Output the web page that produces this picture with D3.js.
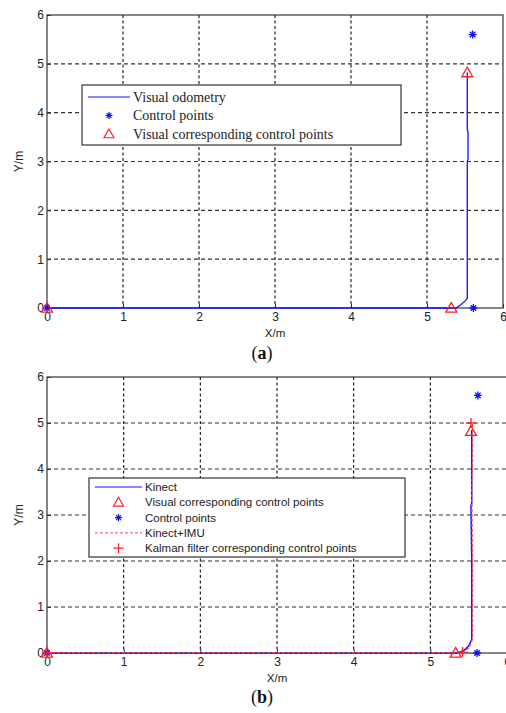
<!DOCTYPE html>
<html>
<head>
<meta charset="utf-8">
<script src="https://cdn.jsdelivr.net/npm/d3@7"></script>
<style>
  body { margin: 0; background: #fff; }
  svg { display: block; }
  .tick text { font-family: Arial, "Liberation Sans", sans-serif; font-size: 12px; fill: #222; }
</style>
</head>
<body>
<script>
// axis ticks
const xTicks = [0, 1, 2, 3, 4, 5, 6];
const yTicks = [0, 1, 2, 3, 4, 5, 6];

// (a) visual odometry track
const odoX = [0, 1, 2, 3, 4, 5, 5.38, 5.44, 5.5, 5.53, 5.53, 5.53, 5.54, 5.54, 5.53, 5.53];
const odoY = [0, 0, 0, 0, 0, 0, 0, 0.06, 0.14, 0.2, 1.5, 3.0, 3.05, 3.6, 3.65, 4.82];
const ctrlAX = [0, 5.61, 5.6];
const ctrlAY = [0, 0, 5.6];
const visAX = [0, 5.32, 5.53];
const visAY = [0, 0, 4.82];

// (b) Kinect and Kinect+IMU tracks
const kinX = [0, 1, 2, 3, 4, 5, 5.36, 5.44, 5.5, 5.54, 5.54, 5.53, 5.54, 5.54];
const kinY = [0, 0, 0, 0, 0, 0, 0, 0.06, 0.15, 0.3, 2.0, 3.2, 3.25, 4.85];
const imuX = [0, 1, 2, 3, 4, 5, 5.4, 5.5, 5.55, 5.55, 5.54, 5.55, 5.55];
const imuY = [0.01, 0.01, 0.01, 0.01, 0.01, 0.01, 0.01, 0.1, 0.3, 2.0, 3.5, 4.2, 5.0];
const ctrlBX = [0, 5.61, 5.62];
const ctrlBY = [0, 0, 5.6];
const visBX = [0, 5.33, 5.53];
const visBY = [0, 0, 4.82];
const kalBX = [0, 5.42, 5.53];
const kalBY = [0, 0.02, 5.0];

const svg = d3.select("body").append("svg").attr("width", 506).attr("height", 713);

function starPath(size) {
  let s = size, d = s * 0.7;
  return `M${-s},0L${s},0M0,${-s}L0,${s}M${-d},${-d}L${d},${d}M${-d},${d}L${d},${-d}`;
}
function plusPath(size) {
  return `M${-size},0L${size},0M0,${-size}L0,${size}`;
}
function triPath(size) {
  return `M0,${-size}L${size},${size * 0.75}L${-size},${size * 0.75}Z`;
}

function panel(box) {
  const g = svg.append("g");
  const x = d3.scaleLinear().domain([0, 6]).range([box.left, box.right]);
  const y = d3.scaleLinear().domain([0, 6]).range([box.bottom, box.top]);

  // grid
  g.append("g").selectAll("line").data(xTicks.slice(1, -1)).enter().append("line")
    .attr("x1", d => x(d)).attr("x2", d => x(d)).attr("y1", box.top).attr("y2", box.bottom)
    .attr("stroke", "#111").attr("stroke-width", 1.1).attr("stroke-dasharray", "3,2.5");
  g.append("g").selectAll("line").data(yTicks.slice(1, -1)).enter().append("line")
    .attr("y1", d => y(d)).attr("y2", d => y(d)).attr("x1", box.left).attr("x2", box.right)
    .attr("stroke", "#333").attr("stroke-width", 1.1).attr("stroke-dasharray", "4,3");

  // frame
  g.append("rect").attr("x", box.left).attr("y", box.top)
    .attr("width", box.right - box.left).attr("height", box.bottom - box.top)
    .attr("fill", "none").attr("stroke", "#444").attr("stroke-width", 1.3);

  const xAxis = d3.axisBottom(x).tickValues(xTicks).tickSize(-4).tickPadding(4).tickFormat(d3.format("d"));
  const yAxis = d3.axisLeft(y).tickValues(yTicks).tickSize(-4).tickPadding(3).tickFormat(d3.format("d"));
  const ax = g.append("g").attr("transform", `translate(0,${box.bottom})`).call(xAxis);
  const ay = g.append("g").attr("transform", `translate(${box.left},0)`).call(yAxis);
  [ax, ay].forEach(a => {
    a.select(".domain").remove();
    a.selectAll(".tick line").attr("stroke", "#333");
  });

  g.append("text").attr("x", x(3)).attr("y", box.bottom + 28.5)
    .attr("text-anchor", "middle").attr("font-family", "Arial, sans-serif").attr("font-size", 11.5)
    .attr("fill", "#222").text("X/m");
  g.append("text").attr("transform", `translate(23,${y(3)}) rotate(-90)`)
    .attr("text-anchor", "middle").attr("font-family", "Arial, sans-serif").attr("font-size", 12)
    .attr("fill", "#222").text("Y/m");
  return { g, x, y };
}

function track(p, xs, ys, color, width, dash) {
  const line = d3.line().x(d => p.x(d[0])).y(d => p.y(d[1]));
  p.g.append("path").datum(d3.zip(xs, ys)).attr("d", line)
    .attr("fill", "none").attr("stroke", color).attr("stroke-width", width)
    .attr("stroke-dasharray", dash || null);
}

function marks(p, xs, ys, shape, color) {
  p.g.append("g").selectAll("path").data(d3.zip(xs, ys)).enter().append("path")
    .attr("transform", d => `translate(${p.x(d[0])},${p.y(d[1])})`)
    .attr("d", shape).attr("fill", "none").attr("stroke", color).attr("stroke-width", 1.3);
}

function legend(p, box, items, font, fsize, rowH) {
  const lg = p.g.append("g");
  lg.append("rect").attr("x", box.x).attr("y", box.y).attr("width", box.w).attr("height", box.h)
    .attr("fill", "#fff").attr("stroke", "#333").attr("stroke-width", 1.2);
  items.forEach((it, i) => {
    const cy = box.y + box.pad + rowH * i;
    const sx = box.x + 6, ex = box.x + box.sym;
    if (it.type === "line") {
      lg.append("line").attr("x1", sx).attr("x2", ex).attr("y1", cy).attr("y2", cy)
        .attr("stroke", it.color).attr("stroke-width", 1).attr("stroke-dasharray", it.dash || null);
    } else {
      lg.append("path").attr("transform", `translate(${(sx + ex) / 2},${cy})`)
        .attr("d", it.shape).attr("fill", "none").attr("stroke", it.color).attr("stroke-width", 1.2);
    }
    lg.append("text").attr("x", ex + 3).attr("y", cy).attr("dy", "0.35em")
      .attr("font-family", font).attr("font-size", fsize).attr("fill", "#222").text(it.label);
  });
}

// ---- panel (a)
const pa = panel({ left: 47, right: 503, top: 15, bottom: 308 });
track(pa, odoX, odoY, "#1010ff", 1.3);
marks(pa, ctrlAX, ctrlAY, starPath(4), "#1010ff");
marks(pa, visAX, visAY, triPath(5.5), "#ff2020");
legend(pa, { x: 82, y: 85, w: 319, h: 60, pad: 12, sym: 48 }, [
  { type: "line", color: "#1010ff", label: "Visual odometry" },
  { type: "mark", shape: starPath(3.5), color: "#1010ff", label: "Control points" },
  { type: "mark", shape: triPath(5), color: "#ff2020", label: "Visual corresponding control points" }
], '"Liberation Serif", "Times New Roman", serif', 14, 18.5);

// ---- panel (b)
const pb = panel({ left: 47, right: 507, top: 377, bottom: 653 });
track(pb, kinX, kinY, "#1010ff", 1.5);
track(pb, imuX, imuY, "#ff4060", 1.3, "3,2");
marks(pb, ctrlBX, ctrlBY, starPath(4), "#1010ff");
marks(pb, visBX, visBY, triPath(5.5), "#ff2020");
marks(pb, kalBX, kalBY, plusPath(5), "#ff2020");
legend(pb, { x: 89, y: 478, w: 316, h: 79, pad: 9, sym: 53 }, [
  { type: "line", color: "#1010ff", label: "Kinect" },
  { type: "mark", shape: triPath(5), color: "#ff2020", label: "Visual corresponding control points" },
  { type: "mark", shape: starPath(3.5), color: "#1010ff", label: "Control points" },
  { type: "line", color: "#ff4060", dash: "3,2", label: "Kinect+IMU" },
  { type: "mark", shape: plusPath(5), color: "#ff2020", label: "Kalman filter corresponding control points" }
], 'Arial, "Liberation Sans", sans-serif', 11.5, 15.3);

// captions
[["a", 359], ["b", 703]].forEach(([t, yy]) => {
  const txt = svg.append("text").attr("x", 262).attr("y", yy).attr("text-anchor", "middle")
    .attr("font-family", '"Liberation Serif", "Times New Roman", serif').attr("font-size", 18).attr("fill", "#111");
  txt.append("tspan").text("(");
  txt.append("tspan").attr("font-weight", "bold").text(t);
  txt.append("tspan").text(")");
});
</script>
</body>
</html>
